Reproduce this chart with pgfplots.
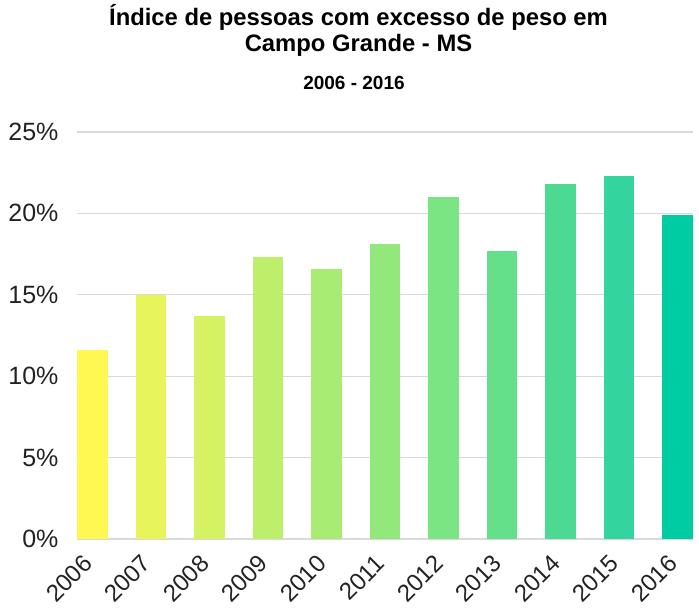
\documentclass[border=0pt]{standalone}
\usepackage{fontspec}
\setmainfont{Liberation Sans}
\usepackage{pgfplots}
\pgfplotsset{compat=1.18}
\definecolor{c0}{HTML}{FFF752}
\definecolor{c1}{HTML}{E8F55A}
\definecolor{c2}{HTML}{D4F262}
\definecolor{c3}{HTML}{BDEF6B}
\definecolor{c4}{HTML}{A8EC73}
\definecolor{c5}{HTML}{92E87B}
\definecolor{c6}{HTML}{7BE483}
\definecolor{c7}{HTML}{64E08A}
\definecolor{c8}{HTML}{4CDA93}
\definecolor{c9}{HTML}{33D49D}
\definecolor{c10}{HTML}{00CCA2}
\definecolor{gridc}{HTML}{D9D9D9}
\definecolor{tickc}{HTML}{222222}
\begin{document}
\begin{tikzpicture}[x=1bp,y=1bp]
\useasboundingbox (-77,-72) rectangle (622,539);
\begin{axis}[
  scale only axis,
  width=616bp, height=407bp,
  xmin=-0.265, xmax=10.265,
  ymin=0, ymax=25,
  axis x line*=bottom,
  axis y line*=left,
  y axis line style={draw=none},
  x axis line style={gridc, line width=1.2bp},
  ymajorgrids,
  grid style={gridc, line width=1.2bp},
  major tick length=0pt,
  xtick={0,1,2,3,4,5,6,7,8,9,10},
  xticklabels={2006,2007,2008,2009,2010,2011,2012,2013,2014,2015,2016},
  ytick={0,5,10,15,20,25},
  yticklabels={0\%,5\%,10\%,15\%,20\%,25\%},
  tick label style={text=tickc},
  yticklabel style={font=\fontsize{25bp}{29bp}\selectfont, anchor=east, xshift=-15bp},
  xticklabel style={font=\fontsize{24bp}{28bp}\selectfont, xshift=-3bp, yshift=-19bp, rotate=45, anchor=east, inner sep=2bp},
  ybar, bar width=30.5bp, bar shift=0pt,
  clip=false,
]
\addplot[fill=c0, draw=none] coordinates {(0,11.6)};
\addplot[fill=c1, draw=none] coordinates {(1,15.0)};
\addplot[fill=c2, draw=none] coordinates {(2,13.7)};
\addplot[fill=c3, draw=none] coordinates {(3,17.3)};
\addplot[fill=c4, draw=none] coordinates {(4,16.6)};
\addplot[fill=c5, draw=none] coordinates {(5,18.1)};
\addplot[fill=c6, draw=none] coordinates {(6,21.0)};
\addplot[fill=c7, draw=none] coordinates {(7,17.7)};
\addplot[fill=c8, draw=none] coordinates {(8,21.8)};
\addplot[fill=c9, draw=none] coordinates {(9,22.3)};
\addplot[fill=c10, draw=none] coordinates {(10,19.9)};
\end{axis}
\node[anchor=base, font=\fontsize{23.8bp}{27bp}\selectfont\bfseries] at (281.5,513) {Índice de pessoas com excesso de peso em};
\node[anchor=base, font=\fontsize{23.8bp}{27bp}\selectfont\bfseries] at (281.5,487) {Campo Grande - MS};
\node[anchor=base, font=\fontsize{19bp}{22bp}\selectfont\bfseries] at (277,449) {2006 - 2016};
\end{tikzpicture}
\end{document}
